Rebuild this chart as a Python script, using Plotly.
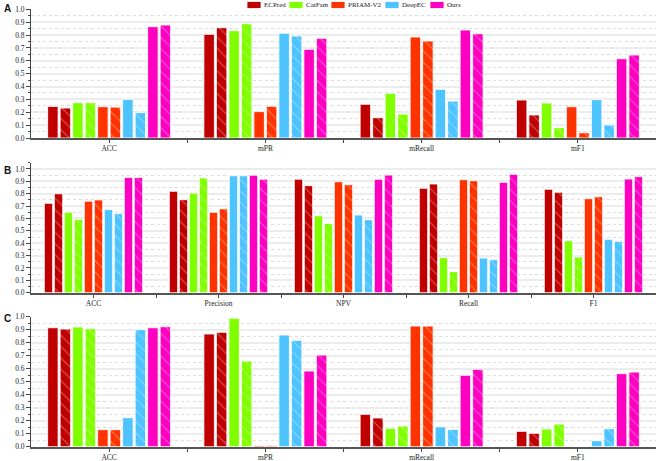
import plotly.graph_objects as go

# ---------------- data ----------------
methods = ["ECPred", "CatFam", "PRIAM-V2", "DeepEC", "Ours"]
colors = ["#c00000", "#80ff00", "#ff3300", "#4dc3ff", "#ff00c0"]

# Panel A
a_cats = ["ACC", "mPR", "mRecall", "mF1"]
a_ecpred = [0.245, 0.806, 0.262, 0.295]
a_ecpred_h = [0.233, 0.857, 0.158, 0.179]
a_catfam = [0.274, 0.834, 0.347, 0.272]
a_catfam_h = [0.274, 0.888, 0.186, 0.080]
a_priam = [0.243, 0.205, 0.785, 0.243]
a_priam_h = [0.240, 0.246, 0.754, 0.041]
a_deepec = [0.300, 0.814, 0.378, 0.298]
a_deepec_h = [0.197, 0.793, 0.287, 0.101]
a_ours = [0.865, 0.689, 0.839, 0.616]
a_ours_h = [0.878, 0.775, 0.810, 0.645]

# Panel B
b_cats = ["ACC", "Precision", "NPV", "Recall", "F1"]
b_ecpred = [0.723, 0.820, 0.918, 0.844, 0.836]
b_ecpred_h = [0.800, 0.752, 0.865, 0.879, 0.812]
b_catfam = [0.650, 0.805, 0.622, 0.283, 0.420]
b_catfam_h = [0.593, 0.928, 0.560, 0.170, 0.289]
b_priam = [0.740, 0.650, 0.897, 0.914, 0.760]
b_priam_h = [0.750, 0.678, 0.873, 0.905, 0.776]
b_deepec = [0.672, 0.945, 0.628, 0.280, 0.432]
b_deepec_h = [0.640, 0.945, 0.590, 0.267, 0.416]
b_ours = [0.932, 0.950, 0.917, 0.892, 0.919]
b_ours_h = [0.932, 0.918, 0.951, 0.957, 0.938]

# Panel C
c_cats = ["ACC", "mPR", "mRecall", "mF1"]
c_ecpred = [0.915, 0.867, 0.249, 0.118]
c_ecpred_h = [0.905, 0.880, 0.221, 0.103]
c_catfam = [0.921, 0.988, 0.142, 0.136]
c_catfam_h = [0.908, 0.659, 0.159, 0.174]
c_priam = [0.131, 0.010, 0.928, 0.0]
c_priam_h = [0.131, 0.010, 0.928, 0.0]
c_deepec = [0.223, 0.859, 0.153, 0.046]
c_deepec_h = [0.900, 0.818, 0.133, 0.138]
c_ours = [0.915, 0.582, 0.549, 0.562]
c_ours_h = [0.923, 0.705, 0.595, 0.574]

panels = [
    ("A", a_cats, [(a_ecpred, a_ecpred_h), (a_catfam, a_catfam_h), (a_priam, a_priam_h),
                   (a_deepec, a_deepec_h), (a_ours, a_ours_h)], 1.0),
    ("B", b_cats, [(b_ecpred, b_ecpred_h), (b_catfam, b_catfam_h), (b_priam, b_priam_h),
                   (b_deepec, b_deepec_h), (b_ours, b_ours_h)], 1.05),
    ("C", c_cats, [(c_ecpred, c_ecpred_h), (c_catfam, c_catfam_h), (c_priam, c_priam_h),
                   (c_deepec, c_deepec_h), (c_ours, c_ours_h)], 1.0),
]

# ---------------- layout geometry ----------------
H = 461.0
W = 660.0
x_dom = [31 / W, 656 / W]
y_doms = [
    [1 - 138 / H, 1 - 9.3 / H],
    [1 - 292.7 / H, 1 - 162.8 / H],
    [1 - 446.7 / H, 1 - 316.7 / H],
]
label_cy = [9, 170, 318]

# legend geometry (px): swatch starts
leg_x = [247, 289, 331, 385, 430]
leg_sw_w, leg_sw_h, leg_cy = 14, 7, 5

SERIF = "Liberation Serif, Times New Roman, serif"

fig = go.Figure()
layout = dict(
    width=660, height=461,
    margin=dict(l=0, r=0, t=0, b=0),
    paper_bgcolor="white", plot_bgcolor="white",
    barmode="group", bargap=0.2, bargroupgap=0.16,
    font=dict(family=SERIF, size=8, color="#222"),
    showlegend=False,
    annotations=[],
    shapes=[],
)

for p, (letter, cats, series, ymax) in enumerate(panels):
    xa = "x" if p == 0 else f"x{p + 1}"
    ya = "y" if p == 0 else f"y{p + 1}"
    xkey = "xaxis" if p == 0 else f"xaxis{p + 1}"
    ykey = "yaxis" if p == 0 else f"yaxis{p + 1}"
    n = len(cats)
    xs = list(range(n))
    for m, (plain, hatched) in enumerate(series):
        fig.add_trace(go.Bar(
            x=xs, y=plain, name=methods[m], legendgroup=methods[m],
            xaxis=xa, yaxis=ya,
            marker=dict(color=colors[m], line=dict(color="rgba(255,255,255,0.85)", width=1)),
            hoverinfo="skip",
        ))
        fig.add_trace(go.Bar(
            x=xs, y=hatched, name=methods[m] + " (hatched)", legendgroup=methods[m],
            xaxis=xa, yaxis=ya,
            marker=dict(color=colors[m], line=dict(color="rgba(255,255,255,0.85)", width=1),
                        pattern=dict(shape="\\", fgcolor="rgba(255,255,255,0.75)",
                                     size=8, solidity=0.12, fillmode="overlay")),
            hoverinfo="skip",
        ))
    layout[xkey] = dict(
        domain=x_dom, anchor=ya, range=[-0.5, n - 0.5], fixedrange=True,
        tickmode="array", tickvals=xs, ticktext=cats,
        ticks="outside", ticklen=3, tickcolor="#444", tickwidth=1,
        showline=True, linecolor="#555", linewidth=2,
        showgrid=False, zeroline=False, automargin=False,
        ticklabelstandoff=-1,
        tickfont=dict(family=SERIF, size=7.5, color="#222"),
        minor=dict(tickmode="array", tickvals=[k - 0.5 for k in range(1, n)],
                   ticks="outside", ticklen=3, tickcolor="#444", showgrid=False),
    )
    layout[ykey] = dict(
        domain=y_doms[p], anchor=xa, range=[0, ymax], fixedrange=True,
        tickmode="linear", tick0=0, dtick=0.1, tickformat=".1f",
        ticks="outside", ticklen=4, tickcolor="#444", tickwidth=1,
        showline=True, linecolor="#444", linewidth=1,
        showgrid=True, gridcolor="#ececec", gridwidth=2,
        zeroline=False, automargin=False,
        tickfont=dict(family=SERIF, size=7.5, color="#222"),
        minor=dict(dtick=0.05, tick0=0, ticks="outside", ticklen=2, tickcolor="#444",
                   showgrid=True, gridcolor="#dddddd", griddash="dot", gridwidth=1),
    )
    layout["annotations"].append(dict(
        text=f"<b>{letter}</b>", xref="paper", yref="paper", x=2 / W, y=1 - label_cy[p] / H,
        xanchor="left", yanchor="middle", showarrow=False,
        font=dict(family="Liberation Sans, Arial, sans-serif", size=10, color="#111"),
    ))

# legend (swatch + label per method)
for m, name in enumerate(methods):
    x0 = leg_x[m]
    layout["shapes"].append(dict(
        type="rect", xref="paper", yref="paper",
        x0=x0 / W, x1=(x0 + leg_sw_w) / W,
        y0=1 - (leg_cy + leg_sw_h / 2) / H, y1=1 - (leg_cy - leg_sw_h / 2) / H,
        fillcolor=colors[m], line=dict(color="rgba(255,255,255,0.8)", width=1),
    ))
    layout["annotations"].append(dict(
        text=name, xref="paper", yref="paper",
        x=(x0 + leg_sw_w + 1) / W, y=1 - leg_cy / H,
        xanchor="left", yanchor="middle", showarrow=False,
        font=dict(family=SERIF, size=7, color="#222"),
    ))

fig.update_layout(**layout)
fig.write_html("out.html", config={"displayModeBar": False},
               post_script="document.body.style.margin='0px';document.body.style.padding='0px';")
